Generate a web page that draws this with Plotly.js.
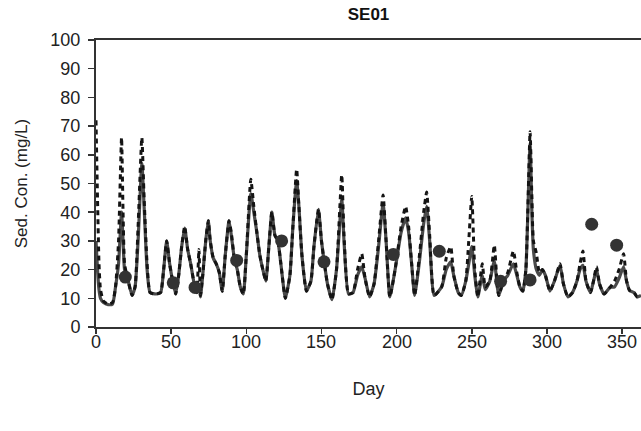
<!DOCTYPE html>
<html>
<head>
<meta charset="utf-8">
<script src="https://cdn.plot.ly/plotly-3.0.1.min.js"></script>
<style>
  html, body { margin: 0; padding: 0; background: #ffffff; }
  #chart { width: 641px; height: 431px; }
</style>
</head>
<body>
<div id="chart"></div>
<script>
// Daily sediment concentration at SE01 (mg/L)
const simDays = [0, 1, 2, 3, 5, 8, 11, 13, 15, 17, 18, 19, 21, 24, 26, 28, 30.5, 32, 34, 36, 40, 43, 45, 47, 49, 51, 53, 55, 57, 59, 61, 63, 65, 67, 68.5, 69.5, 71, 73, 74.7, 76, 78, 80, 82, 84, 86, 88.5, 90, 92, 94, 96, 98, 100, 103, 105, 107, 109, 111, 113, 115, 117, 119, 121, 123, 126, 129, 131, 133.5, 135, 137, 140, 143, 145, 148, 150, 152, 154, 157, 160, 163.5, 165, 168, 171, 174, 176.8, 179, 182, 185, 188, 191, 193, 195.5, 199, 203, 206, 208, 210, 212, 215, 218, 220, 222, 225, 230, 233, 236, 238, 241, 243, 246, 248, 250, 252, 254, 257, 259, 262, 265, 267, 268, 271, 274, 277.7, 280, 282, 284, 286, 288.8, 290, 291, 293, 295, 297, 299, 302, 305, 308.7, 311, 314, 317, 320, 322, 324, 326, 329, 331, 333, 335, 338, 342, 345, 348, 351, 353, 355, 358, 360, 362.6];

// Solid series
const simSolid = [30, 20, 13, 10, 8.5, 7.8, 8, 14, 22, 40, 30, 20, 17, 11, 14, 30, 57, 42, 20, 12, 11.5, 12, 20, 30, 22, 16, 11.5, 18, 28, 34.5, 27, 22, 16, 12, 14, 10.5, 18, 30, 37, 30, 24, 22, 19, 12.5, 25, 37, 32, 24, 20, 14, 11.5, 25, 46.5, 40, 33, 25, 20, 16, 28, 40, 32, 30, 22, 10, 18, 35, 51, 42, 25, 12.5, 16, 28, 41, 30, 22, 15, 9.5, 20, 44.5, 30, 11.5, 12, 18, 21, 17, 10.5, 15, 28, 43, 30, 10.5, 20, 33, 38, 33, 22, 11, 22, 36, 42, 30, 11, 14, 20, 22.7, 18, 12, 11, 16, 22, 28, 18, 10.5, 18, 13, 16, 23, 14, 11, 16, 18, 22, 18, 14, 12.5, 20, 64, 40, 27, 20, 18, 20, 18, 12.5, 16, 21.5, 15, 10.5, 12, 16, 20, 21.5, 16, 12, 16, 20, 15, 11.5, 13.8, 14, 17, 21, 16, 12.7, 12, 10.5, 11];

// Dashed series
const simDashed = [72, 45, 22, 13, 9, 8, 8.5, 14, 30, 66, 40, 22, 17, 11, 14, 35, 66, 45, 22, 12, 11.5, 12, 20, 30, 22, 16, 11.5, 18, 28, 35, 27, 22, 16, 12, 27, 11, 18, 30, 37, 30, 24, 22, 19, 12.5, 25, 37, 33, 24, 20, 14, 11.5, 25, 51.5, 42, 33, 25, 20, 16, 28, 40, 32, 30, 22, 10, 18, 35, 55, 42, 25, 12.5, 16, 28, 41, 30, 22, 15, 9.5, 20, 53, 32, 11.5, 12, 20, 25.5, 17, 10.5, 15, 30, 46, 30, 10.5, 20, 35, 42, 35, 22, 11, 24, 40, 47, 32, 11, 14, 24, 28, 18, 12, 11, 16, 30, 45.5, 20, 10.5, 22, 14, 16, 28.5, 14, 11, 16, 19, 26.5, 19, 14, 12.5, 20, 68, 45, 30, 25.7, 19, 20, 18, 12.5, 16, 22, 15, 10.5, 12, 16, 22, 26.5, 16, 12, 16, 21, 15, 11.5, 13.8, 16, 20, 25.5, 16, 12.7, 12, 10.5, 11];

// Measured samples
const obsDays = [19.5, 51.4, 65.9, 93.6, 123.5, 151.7, 197.8, 228.4, 269.2, 288.8, 329.8, 346.4];
const obsSed = [17.4, 15.4, 13.8, 23.2, 30, 22.7, 25.3, 26.4, 15.9, 16.4, 35.8, 28.5];

const xTicks = [0, 50, 100, 150, 200, 250, 300, 350];
const yTicks = [0, 10, 20, 30, 40, 50, 60, 70, 80, 90, 100];

const fontFamily = '"Liberation Sans", Arial, sans-serif';
const tickFont = { family: fontFamily, size: 18, color: '#222222' };

const traces = [
  {
    x: simDays, y: simSolid, type: 'scatter', mode: 'lines',
    line: { color: '#4a4a4a', width: 3.2, shape: 'spline', smoothing: 0.5 },
    hoverinfo: 'skip'
  },
  {
    x: simDays, y: simDashed, type: 'scatter', mode: 'lines',
    line: { color: '#141414', width: 3, dash: '5px,4px', shape: 'spline', smoothing: 0.5 },
    hoverinfo: 'skip'
  },
  {
    x: obsDays, y: obsSed, type: 'scatter', mode: 'markers',
    marker: { color: '#333333', size: 13 },
    hoverinfo: 'skip'
  }
];

// Day labels sit close under the axis, placed on the x scale
const dayLabels = xTicks.map(v => ({
  x: v, xref: 'x', y: 0, yref: 'paper',
  text: String(v), showarrow: false,
  xanchor: 'center', yanchor: 'top', yshift: -3,
  font: tickFont
}));

const layout = {
  width: 641, height: 431,
  margin: { l: 96, r: 0, t: 40, b: 104 },
  paper_bgcolor: '#ffffff', plot_bgcolor: '#ffffff',
  showlegend: false,
  font: { family: fontFamily, color: '#222222', size: 18 },
  title: {
    text: '<b>SE01</b>',
    font: { family: fontFamily, size: 17, color: '#111111' },
    x: 0.5, xref: 'paper', y: 0.967, yref: 'container', yanchor: 'middle'
  },
  xaxis: {
    range: [0, 362.6],
    tickvals: xTicks, showticklabels: false,
    showgrid: false, zeroline: false,
    showline: true, linecolor: '#333333', linewidth: 2, mirror: true,
    ticks: 'outside', ticklen: 5, tickwidth: 1.5, tickcolor: '#333333',
    title: { text: 'Day', font: { family: fontFamily, size: 18, color: '#222222' }, standoff: 49 }
  },
  yaxis: {
    range: [0, 100],
    tickvals: yTicks, ticktext: yTicks.map(String),
    showgrid: false, zeroline: false,
    showline: true, linecolor: '#333333', linewidth: 2,
    ticks: 'outside', ticklen: 6, tickwidth: 1.5, tickcolor: '#333333',
    ticklabelstandoff: 4,
    tickfont: tickFont,
    title: { text: 'Sed. Con. (mg/L)', font: { family: fontFamily, size: 17, color: '#222222' }, standoff: 18 }
  },
  annotations: dayLabels
};

Plotly.newPlot('chart', traces, layout, { staticPlot: true, displayModeBar: false });
</script>
</body>
</html>
